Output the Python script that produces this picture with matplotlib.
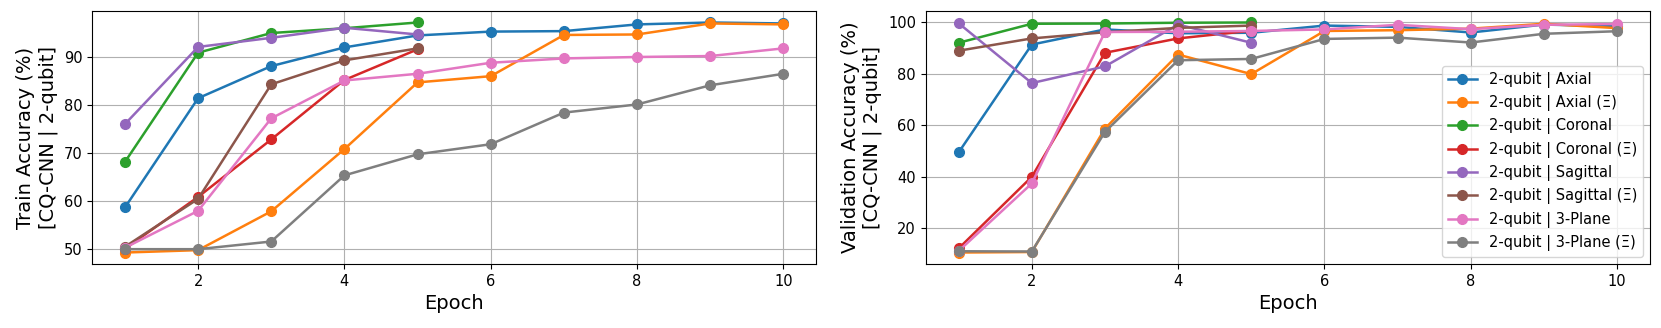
import matplotlib
matplotlib.use("Agg")
import matplotlib.pyplot as plt

# -----------------------------------------------------------------------------
# DATA
# -----------------------------------------------------------------------------
epochs = [1, 2, 3, 4, 5, 6, 7, 8, 9, 10]

labels = ["2-qubit | Axial", "2-qubit | Axial (Ξ)",
          "2-qubit | Coronal", "2-qubit | Coronal (Ξ)",
          "2-qubit | Sagittal", "2-qubit | Sagittal (Ξ)",
          "2-qubit | 3-Plane", "2-qubit | 3-Plane (Ξ)"]

# train accuracy
train_axial = [58.6, 81.4, 88.1, 92.0, 94.5, 95.3, 95.4, 96.8, 97.2, 97.0]
train_axial_x = [49.2, 49.7, 57.8, 70.8, 84.7, 86.0, 94.6, 94.7, 97.0, 96.8]
train_coronal = [68.1, 90.9, 95.0, 96.0, 97.2]
train_coronal_x = [50.0, 60.8, 72.8, 85.2, 91.6]
train_sagittal = [76.0, 92.1, 94.0, 96.1, 94.7]
train_sagittal_x = [50.4, 60.4, 84.3, 89.3, 91.8]
train_3plane = [50.2, 57.9, 77.2, 85.1, 86.5, 88.8, 89.7, 90.0, 90.2, 91.8]
train_3plane_x = [49.9, 49.9, 51.5, 65.3, 69.7, 71.8, 78.4, 80.1, 84.1, 86.5]

# validation accuracy
val_axial = [49.4, 91.4, 97.3, 95.8, 96.0, 98.8, 98.3, 96.1, 99.2, 98.5]
val_axial_x = [10.4, 10.6, 58.7, 87.5, 79.9, 96.7, 97.0, 97.6, 99.5, 97.8]
val_coronal = [92.1, 99.5, 99.6, 99.9, 100.0]
val_coronal_x = [12.0, 39.9, 88.2, 93.8, 96.8]
val_sagittal = [99.7, 76.4, 82.9, 99.2, 92.1]
val_sagittal_x = [89.0, 93.8, 96.2, 97.9, 98.8]
val_3plane = [11.0, 37.3, 96.3, 96.4, 96.7, 97.3, 99.1, 97.4, 99.1, 99.4]
val_3plane_x = [10.9, 10.8, 57.4, 85.3, 85.8, 93.6, 94.1, 92.2, 95.6, 96.6]

train_series = [train_axial, train_axial_x, train_coronal, train_coronal_x,
                train_sagittal, train_sagittal_x, train_3plane, train_3plane_x]
val_series = [val_axial, val_axial_x, val_coronal, val_coronal_x,
              val_sagittal, val_sagittal_x, val_3plane, val_3plane_x]

# -----------------------------------------------------------------------------
# FIGURE
# -----------------------------------------------------------------------------
fig, (ax1, ax2) = plt.subplots(1, 2, figsize=(16.61, 3.28), dpi=100)
fig.subplots_adjust(left=0.0554, right=0.9934, top=0.9665, bottom=0.195, wspace=0.151)

for vals, lab in zip(train_series, labels):
    ax1.plot(epochs[:len(vals)], vals, marker="o", markersize=7, linewidth=1.8, label=lab)

for vals, lab in zip(val_series, labels):
    ax2.plot(epochs[:len(vals)], vals, marker="o", markersize=7, linewidth=1.8, label=lab)

ax1.set_ylabel("Train Accuracy (%)\n[CQ-CNN | 2-qubit]", fontsize=14)
ax2.set_ylabel("Validation Accuracy (%)\n[CQ-CNN | 2-qubit]", fontsize=14)

for ax in (ax1, ax2):
    ax.set_xlabel("Epoch", fontsize=14)
    ax.grid(True)
    ax.tick_params(labelsize=10.5)

ax2.legend(loc="lower right", fontsize=10.5)

fig.savefig("out.png")
